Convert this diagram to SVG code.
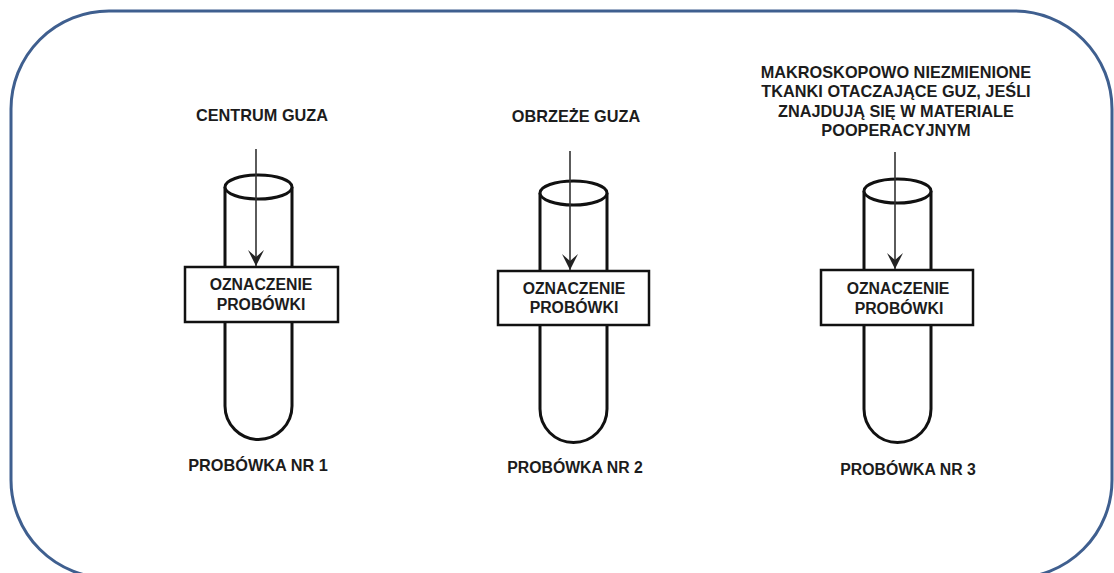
<svg xmlns="http://www.w3.org/2000/svg" width="1114" height="573" viewBox="0 0 1114 573">
<defs>
<marker id="ah" markerUnits="userSpaceOnUse" markerWidth="18" markerHeight="18" refX="16" refY="8" orient="auto" viewBox="0 0 18 16"><path d="M0 0L16 8L0 16L7 8Z" fill="#222"/></marker>
</defs>
<style>
text{font-family:"Liberation Sans",Arial,sans-serif;font-weight:700;font-size:15.800px;fill:#1c1c1c;text-anchor:middle}
.big{font-size:16.300px}
.tube{fill:#fff;stroke:#111;stroke-width:3}
.box{fill:#fff;stroke:#111;stroke-width:2.500}
.arrow{fill:none;stroke:#333;stroke-width:1.600}
</style>
<rect width="1114" height="573" fill="#fff"/>
<rect id="frame" x="11" y="11" width="1101" height="567" rx="98" ry="98" fill="#fff" stroke="#3f5f8f" stroke-width="3"/>
<g id="tube1">
<path class="tube" d="M225 187V406a33.500 33.500 0 0 0 67 0V187"/>
<ellipse class="tube" cx="258.500" cy="187" rx="33.500" ry="12"/>
<rect class="box" x="185" y="267" width="153" height="55"/>
<text x="261" y="290">OZNACZENIE</text><text x="261" y="310">PROBÓWKI</text>
<text class="big" x="262" y="121">CENTRUM GUZA</text>
<text class="big" x="258" y="471">PROBÓWKA NR 1</text>
</g>
<g id="tube2">
<path class="tube" d="M540 193V409a33.500 33.500 0 0 0 67 0V193"/>
<ellipse class="tube" cx="573.500" cy="193" rx="33.500" ry="12"/>
<rect class="box" x="498" y="271" width="151" height="54"/>
<text x="574" y="294">OZNACZENIE</text><text x="574" y="313">PROBÓWKI</text>
<text class="big" x="576" y="122">OBRZEŻE GUZA</text>
<text x="575" y="473">PROBÓWKA NR 2</text>
</g>
<g id="tube3">
<path class="tube" d="M864 191V409a33.500 33.500 0 0 0 67 0V191"/>
<ellipse class="tube" cx="897.500" cy="191" rx="33.500" ry="12"/>
<rect class="box" x="821" y="270" width="152" height="55"/>
<text x="898" y="294">OZNACZENIE</text><text x="899" y="314">PROBÓWKI</text>
<text class="big" x="896" y="78">MAKROSKOPOWO NIEZMIENIONE</text>
<text class="big" x="896" y="97">TKANKI OTACZAJĄCE GUZ, JEŚLI</text>
<text class="big" x="896" y="117">ZNAJDUJĄ SIĘ W MATERIALE</text>
<text class="big" x="896" y="136">POOPERACYJNYM</text>
<text x="908" y="475">PROBÓWKA NR 3</text>
</g>
<g id="connectors">
<path class="arrow" d="M256 149V266" marker-end="url(#ah)"/>
<path class="arrow" d="M570 151V270" marker-end="url(#ah)"/>
<path class="arrow" d="M895 152V269" marker-end="url(#ah)"/>
</g>
</svg>
